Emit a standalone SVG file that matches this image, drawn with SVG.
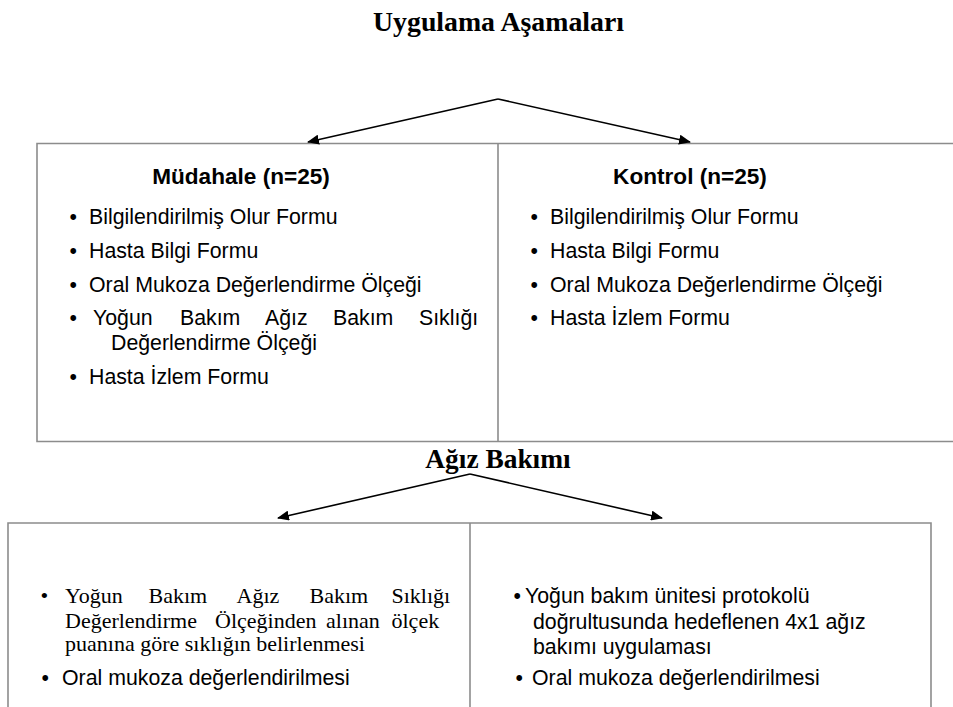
<svg xmlns="http://www.w3.org/2000/svg" width="953" height="707" viewBox="0 0 953 707">
<defs>
<marker id="ah" viewBox="0 0 12 10" refX="11" refY="5" markerWidth="12" markerHeight="10" markerUnits="userSpaceOnUse" orient="auto">
<path d="M0,0 L12,5 L0,10 z" fill="#000"/>
</marker>
<style>
.box{fill:none;stroke:#8c8c8c;stroke-width:1.6}
.arr{fill:none;stroke:#000;stroke-width:1.6;marker-end:url(#ah)}
.h{font-family:"Liberation Serif","Times New Roman",serif;font-weight:bold;font-size:27.8px;fill:#000}
.h2{font-family:"Liberation Serif","Times New Roman",serif;font-weight:bold;font-size:27.4px;fill:#000}
.t{font-family:"Liberation Sans",Arial,sans-serif;font-size:21.3px;fill:#000}
.tb{font-family:"Liberation Sans",Arial,sans-serif;font-size:22.6px;font-weight:bold;fill:#000}
.s{font-family:"Liberation Serif","Times New Roman",serif;font-size:22px;fill:#000}
</style>
</defs>
<rect width="953" height="707" fill="#fff"/>
<text class="h" x="498.5" y="31" text-anchor="middle">Uygulama Aşamaları</text>
<g id="top-box">
<path class="box" d="M953,143.5 H37 V441.5 H953 M498,143.5 V441.5"/>
</g>
<g id="mudahale">
<text class="tb" x="241" y="184" text-anchor="middle">Müdahale (n=25)</text>
<text class="t" x="69.5" y="224">•</text><text class="t" x="89" y="224">Bilgilendirilmiş Olur Formu</text>
<text class="t" x="69.5" y="258">•</text><text class="t" x="89" y="258">Hasta Bilgi Formu</text>
<text class="t" x="69.5" y="292">•</text><text class="t" x="89" y="292">Oral Mukoza Değerlendirme Ölçeği</text>
<text class="t" x="69.5" y="325">•</text><text class="t" y="325"><tspan x="93">Yoğun</tspan><tspan x="180">Bakım</tspan><tspan x="265">Ağız</tspan><tspan x="333">Bakım</tspan><tspan x="419">Sıklığı</tspan></text>
<text class="t" x="111" y="350">Değerlendirme Ölçeği</text>
<text class="t" x="69.5" y="384">•</text><text class="t" x="89" y="384">Hasta İzlem Formu</text>
</g>
<g id="kontrol">
<text class="tb" x="690" y="184" text-anchor="middle">Kontrol (n=25)</text>
<text class="t" x="530.5" y="224">•</text><text class="t" x="550" y="224">Bilgilendirilmiş Olur Formu</text>
<text class="t" x="530.5" y="258">•</text><text class="t" x="550" y="258">Hasta Bilgi Formu</text>
<text class="t" x="530.5" y="292">•</text><text class="t" x="550" y="292">Oral Mukoza Değerlendirme Ölçeği</text>
<text class="t" x="530.5" y="325">•</text><text class="t" x="550" y="325">Hasta İzlem Formu</text>
</g>
<text class="h2" x="498" y="468" text-anchor="middle">Ağız Bakımı</text>
<g id="bottom-box">
<path class="box" d="M8,707 V523 H931 V707 M470,523 V707"/>
</g>
<g id="mudahale-bakim">
<text class="s" x="40.5" y="603">•</text>
<text class="s" y="603"><tspan x="65">Yoğun</tspan><tspan x="148.5">Bakım</tspan><tspan x="236.5">Ağız</tspan><tspan x="309.5">Bakım</tspan><tspan x="391.5">Sıklığı</tspan></text>
<text class="s" y="627.5"><tspan x="65">Değerlendirme</tspan><tspan x="215">Ölçeğinden</tspan><tspan x="326">alınan</tspan><tspan x="391.5">ölçek</tspan></text>
<text class="s" x="65" y="651">puanına göre sıklığın belirlenmesi</text>
<text class="t" x="41.5" y="685">•</text><text class="t" x="62" y="685">Oral mukoza değerlendirilmesi</text>
</g>
<g id="kontrol-bakim">
<text class="t" x="513.5" y="603">•</text><text class="t" x="525" y="603">Yoğun bakım ünitesi protokolü</text>
<text class="t" x="533" y="629">doğrultusunda hedeflenen 4x1 ağız</text>
<text class="t" x="533" y="654">bakımı uygulaması</text>
<text class="t" x="515.5" y="685">•</text><text class="t" x="532" y="685">Oral mukoza değerlendirilmesi</text>
</g>
<g id="connectors">
<path class="arr" d="M498,99 L308,142"/>
<path class="arr" d="M498,99 L690,142"/>
<path class="arr" d="M470,474 L278,518"/>
<path class="arr" d="M470,474 L662,518"/>
</g>
</svg>
